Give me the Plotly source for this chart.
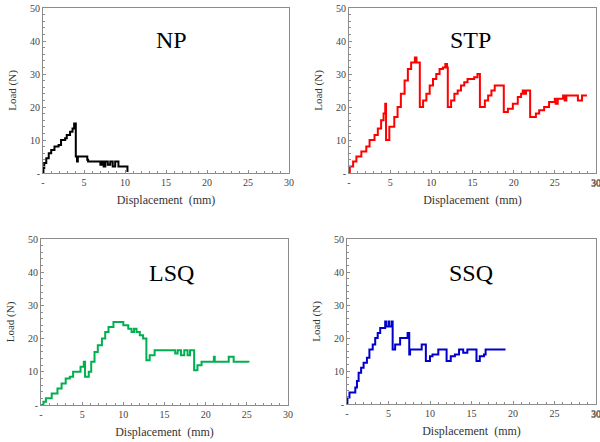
import plotly.graph_objects as go

# ---- data (displacement mm, load N) ----
np_x = [0, 0.05, 0.15, 0.4, 0.7, 1.0, 1.4, 1.9, 2.2, 2.7, 2.9, 3.3, 3.6, 3.8, 4.0, 4.15, 4.25,
        5.4, 5.5, 7.0, 7.2, 7.4, 7.6, 7.9, 8.2, 8.5, 8.8, 9.2, 10.3]
np_y = [0, 1.5, 3, 4.5, 6, 7, 8, 8.5, 10, 10.5, 11.5, 12.5, 13.5, 15, 5, 3.5, 5,
        4, 3.5, 2.5, 3.5, 2, 3.5, 2.5, 3.5, 2, 3.5, 2, 0.3]

stp_x = [0, 0.1, 0.5, 0.9, 1.5, 2.1, 2.5, 3.1, 3.5, 3.9, 4.2, 4.4, 4.5, 4.9, 5.5, 5.9, 6.3, 6.75,
         7.15, 7.55, 8.0, 8.2, 8.6, 9.0, 9.4, 9.8, 10.2, 10.6, 11.0, 11.4, 11.7, 11.9, 12.0,
         12.4, 12.8, 13.2, 13.6, 14.0, 14.4, 15.2, 15.6, 15.9, 16.5, 16.9, 17.3, 17.7, 18.8,
         19.3, 19.9, 20.5, 20.9, 21.1, 21.3, 21.5, 22.0, 22.7, 23.1, 23.7, 24.3, 25.0, 25.1,
         25.35, 26.0, 26.2, 26.4, 27.8, 28.3, 28.9]
stp_y = [0, 2, 3.5, 5, 6.5, 8, 10, 11.5, 13.5, 16, 18, 21, 10, 14, 17, 20, 24, 28,
         31.5, 33.5, 35, 33.5, 20, 22, 24, 26.5, 28.5, 30, 31.5, 32, 33, 32, 20,
         22, 24, 25, 26.5, 27.5, 28.5, 29, 30, 20, 22, 23.5, 25, 26.5, 18.5,
         19.5, 21, 23, 24, 25, 24, 25, 17, 18, 19, 20, 21.5, 22.5, 21,
         22.5, 23.5, 22, 23.5, 22, 23.5, 23.5]

lsq_x = [0, 0.3, 0.6, 1.3, 2.0, 2.5, 3.0, 3.5, 3.9, 4.8, 5.2, 5.35, 5.8, 6.1, 6.5, 6.9, 7.4,
         7.8, 8.2, 8.8, 10.0, 10.6, 11.0, 11.3, 11.6, 12.0, 12.4, 12.8, 13.2, 13.8, 16.3,
         16.6, 17.0, 17.4, 17.8, 18.1, 18.6, 19.0, 19.5, 21.0, 21.1, 22.8, 23.4, 25.2]
lsq_y = [0, 1, 2, 3.5, 5, 6.5, 8, 8.5, 10, 11.5, 13, 8.5, 10, 13, 16, 18, 20,
         22, 23.5, 25, 24, 23, 22, 23, 22, 21, 20, 13.5, 15, 16.5, 15.5,
         16.5, 15, 16.5, 15, 16.5, 10.5, 12, 13, 14.5, 13, 14.5, 13, 12.8]

ssq_x = [0, 0.05, 0.3, 1.0, 1.2, 1.4, 1.7, 2.0, 2.4, 2.7, 3.1, 3.4, 3.7, 4.0, 4.6, 4.7, 5.0,
         5.1, 5.4, 5.5, 5.8, 6.4, 7.3, 7.5, 7.6, 9.0, 9.5, 10.0, 10.3, 11.0, 12.0, 12.5,
         13.0, 13.5, 14.0, 14.5, 15.6, 16.0, 16.5, 16.7, 19.1]
ssq_y = [0, 2, 3.5, 5, 7, 9.5, 11, 12.5, 14, 16.5, 18, 20, 21.5, 23, 25, 23.5, 25,
         23.5, 25, 16.5, 18, 20, 21.5, 15, 16.5, 18, 13, 14.5, 15, 16.5, 13, 14.5,
         15, 16.5, 15.5, 16.5, 13, 14.5, 15, 16.5, 16.5]

panel_names = ["NP", "STP", "LSQ", "SSQ"]
panel_colors = ["#000000", "#ff0000", "#00b050", "#0000cc"]
xs = [np_x, stp_x, lsq_x, ssq_x]
ys = [np_y, stp_y, lsq_y, ssq_y]

x_tickvals = [0, 5, 10, 15, 20, 25, 30]
x_ticktext = ["-", "5", "10", "15", "20", "25", "30"]
y_tickvals = [0, 10, 20, 30, 40, 50]
y_ticktext = ["-", "10", "20", "30", "40", "50"]

W, H = 600, 442
# pixel boxes (left, right, top, bottom)
boxes = [(43, 289, 8, 173), (349, 596, 8, 173), (41, 288, 239, 405), (347, 596, 239, 404)]
label_pos = [(15.7, 40.3), (14.8, 40.3), (15.8, 39.8), (14.9, 39.7)]

serif = "Times New Roman, Liberation Serif, DejaVu Serif, serif"
tick_font = dict(family=serif, size=10, color="#444")
fig = go.Figure()
layout = dict(width=W, height=H, margin=dict(l=0, r=0, t=0, b=0),
              paper_bgcolor="white", plot_bgcolor="white", showlegend=False)
annotations = []
for i in range(4):
    xa = "x" if i == 0 else f"x{i+1}"
    ya = "y" if i == 0 else f"y{i+1}"
    fig.add_trace(go.Scatter(x=xs[i], y=ys[i], mode="lines", line_shape="hv",
                             line=dict(color=panel_colors[i], width=2),
                             xaxis=xa, yaxis=ya, hoverinfo="skip"))
    l, r, t, b = boxes[i]
    xkey = "xaxis" if i == 0 else f"xaxis{i+1}"
    ykey = "yaxis" if i == 0 else f"yaxis{i+1}"
    common = dict(showgrid=False, zeroline=False, showline=True, linecolor="#8c8c8c",
                  linewidth=1, mirror=True, ticks="inside", ticklen=3, tickcolor="#8c8c8c",
                  tickfont=tick_font, automargin=False, ticklabeloverflow="allow")
    layout[xkey] = dict(common, domain=[l / W, r / W], range=[0, 30], anchor=ya,
                        tickvals=x_tickvals, ticktext=x_ticktext,
                        minor=dict(dtick=1, ticks="inside", ticklen=2, tickcolor="#8c8c8c"),
                        title=dict(text="Displacement  (mm)", standoff=8,
                                   font=dict(family=serif, size=12, color="#333")))
    layout[ykey] = dict(common, domain=[1 - b / H, 1 - t / H], range=[0, 50], anchor=xa,
                        tickvals=y_tickvals, ticktext=y_ticktext,
                        minor=dict(dtick=2, ticks="inside", ticklen=2, tickcolor="#8c8c8c"),
                        title=dict(text="Load (N)", standoff=11,
                                   font=dict(family=serif, size=11, color="#333")))
    annotations.append(dict(x=label_pos[i][0], y=label_pos[i][1], xref=xa, yref=ya,
                            text=panel_names[i], showarrow=False,
                            font=dict(family=serif, size=24, color="black")))
    if r > W - 10:
        # last tick label near the page edge (partly cut off in the original)
        annotations.append(dict(x=x_tickvals[-1], y=0, xref=xa, yref=ya, yanchor="top",
                                yshift=-3, text=x_ticktext[-1], showarrow=False,
                                font=tick_font, xanchor="center"))
layout["annotations"] = annotations
fig.update_layout(**layout)
fig.write_html("out.html")
